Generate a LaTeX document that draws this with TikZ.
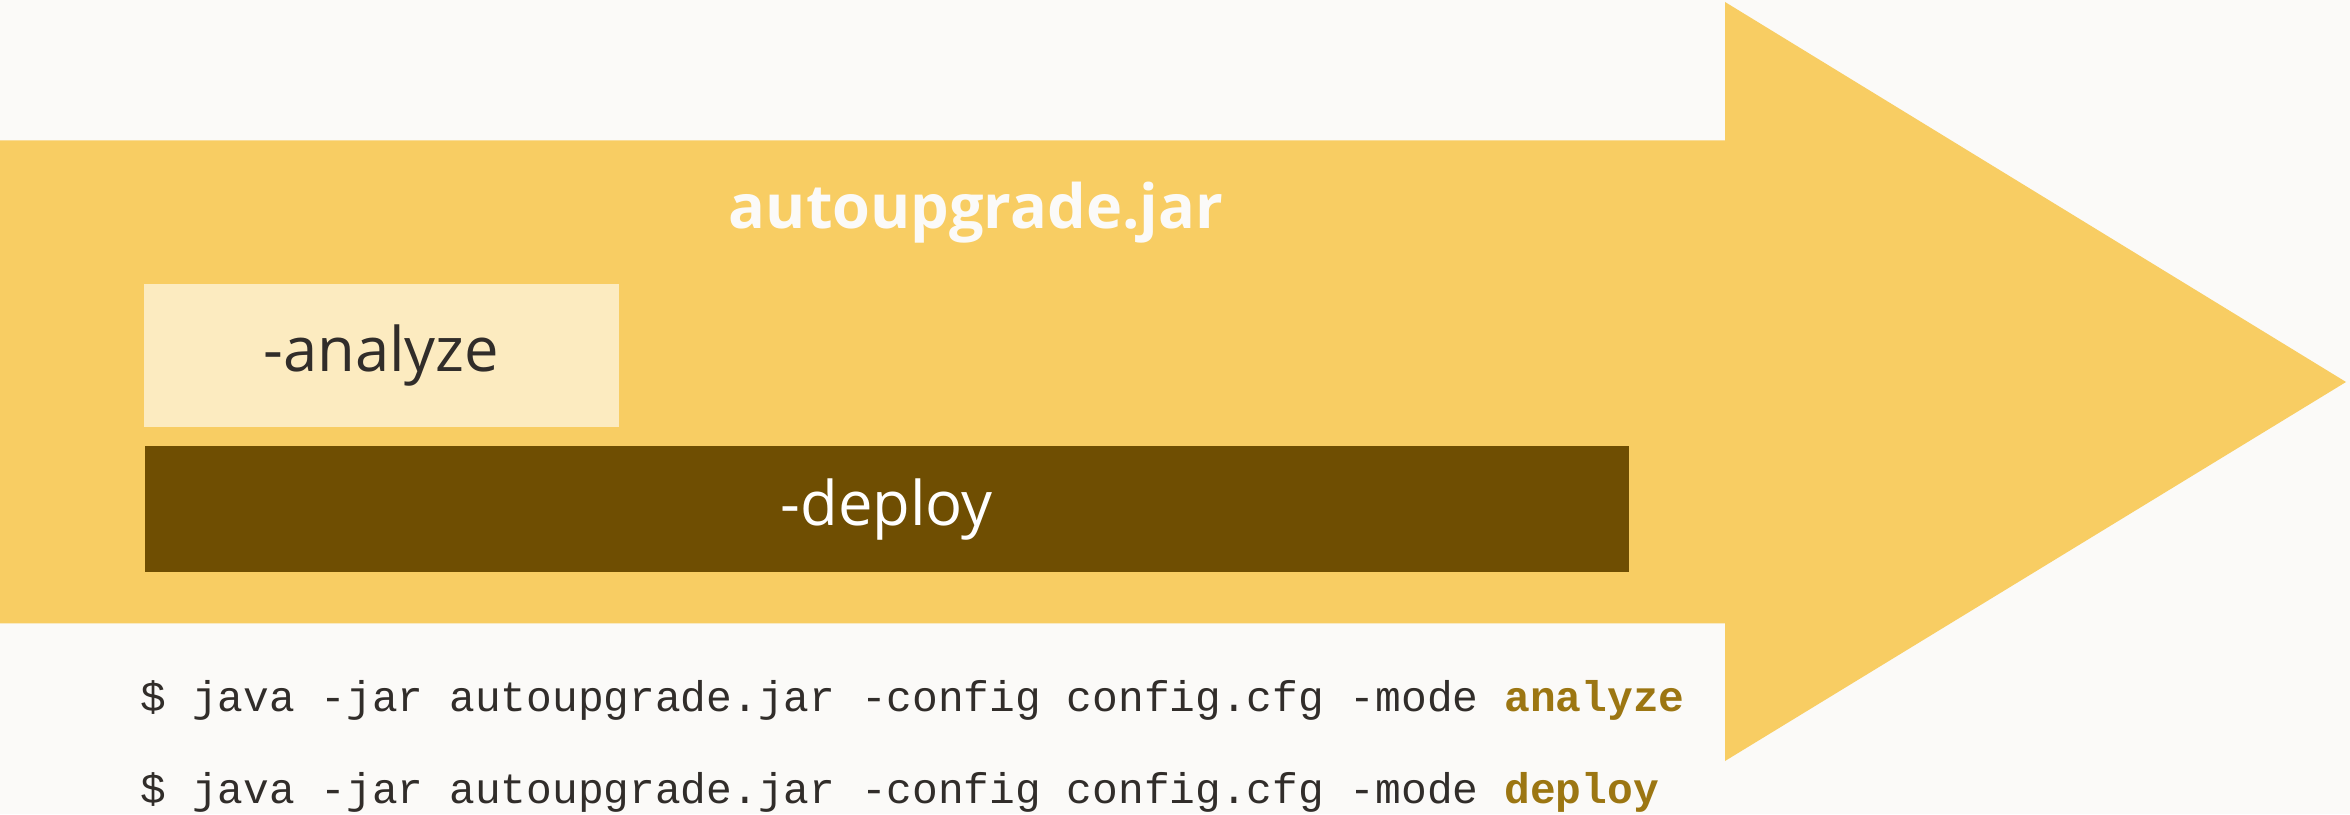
\documentclass[tikz,border=0pt]{standalone}
\usepackage{fontspec}
\setmainfont{Open Sans}
\setmonofont{Liberation Mono}
\definecolor{fondo}{HTML}{FBFAF8}
\definecolor{flecha}{HTML}{F8CD63}
\definecolor{claro}{HTML}{FCEBC0}
\definecolor{oscuro}{HTML}{6F4E02}
\definecolor{texto}{HTML}{312D2A}
\definecolor{modo}{HTML}{9C7612}
\tikzset{
  caja/.style={inner sep=0pt, anchor=south west, font=\fontsize{17.5}{20}\selectfont},
  comando/.style={anchor=base west, inner sep=0pt, text=texto, font=\ttfamily\fontsize{12.2}{14}\selectfont}
}
\newcommand{\modo}[1]{\textcolor{modo}{\textbf{#1}}}
\begin{document}
\begin{tikzpicture}
            % Fondo
            \fill[fondo] (0,0) rectangle (23.5,8.14);
            \useasboundingbox (0,0) rectangle (23.5,8.14);
            % Flecha
            \fill[flecha] (0,1.905) -- (0,6.735) -- (17.25,6.735) -- (17.25,8.12)
                -- (23.46,4.32) -- (17.25,0.53) -- (17.25,1.905) -- cycle;

            % Titulo
            \node[text=fondo, font=\bfseries\fontsize{17.4}{20}\selectfont] (jar) at (9.76,6.01) {autoupgrade.jar};
            % Modos
            \node[caja, fill=claro, text=texto, minimum width=4.75cm, minimum height=1.43cm] (analyze) at (1.43,3.86) {-analyze};
            \node[caja, fill=oscuro, text=white, minimum width=14.84cm, minimum height=1.26cm] (deploy) at (1.44,2.41) {-deploy};

            % Comandos
            \node[comando] (cmdanalyze) at (1.40,1.02) {\$ java -jar autoupgrade.jar -config config.cfg -mode \modo{analyze}};
            \node[comando] (cmddeploy) at (1.40,0.11) {\$ java -jar autoupgrade.jar -config config.cfg -mode \modo{deploy}};
        \end{tikzpicture}
\end{document}
